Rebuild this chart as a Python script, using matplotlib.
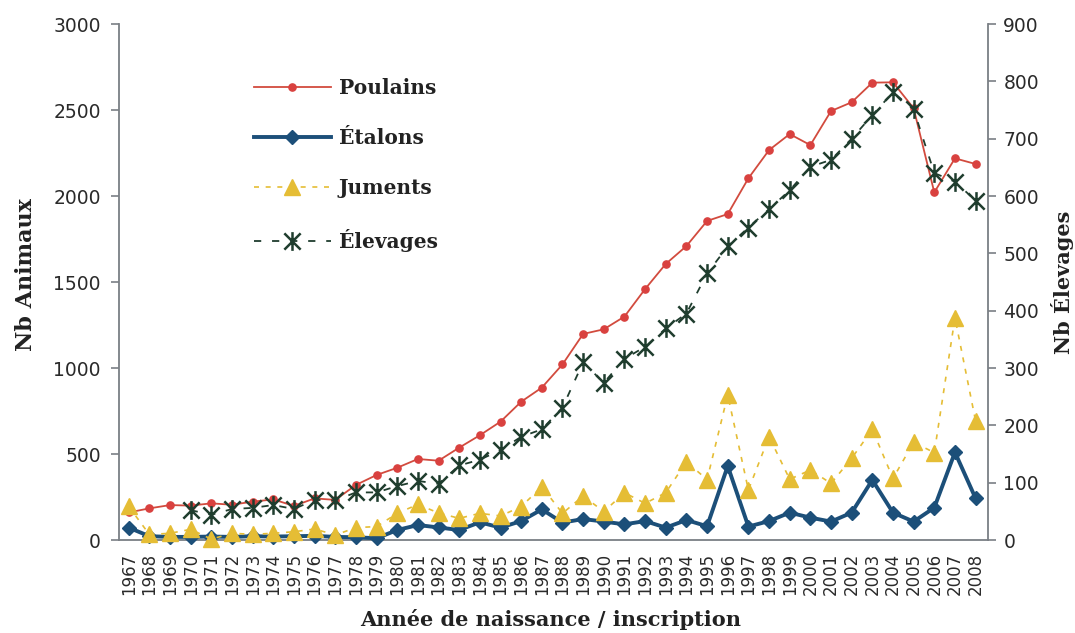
import matplotlib
matplotlib.use("Agg")
import matplotlib.pyplot as plt
from matplotlib.path import Path
import numpy as np

# Birth / registration years
years = list(range(1967, 2009))

# Animal counts (left axis)
poulains = [160, 184, 203, 200, 213, 205, 223, 236, 198, 242, 233, 320, 378, 420,
            471, 461, 537, 609, 688, 804, 886, 1021, 1198, 1225, 1299, 1459, 1605,
            1709, 1855, 1895, 2103, 2267, 2360, 2296, 2494, 2545, 2659, 2661, 2510,
            2021, 2219, 2186]
etalons = [72, 22, 18, 18, 20, 18, 22, 20, 22, 24, 18, 16, 10, 58, 87, 73, 58, 103,
           72, 110, 178, 101, 122, 107, 91, 110, 72, 116, 80, 430, 78, 110, 159,
           130, 107, 159, 349, 159, 107, 188, 510, 242]
juments = [195, 32, 39, 62, 5, 39, 33, 39, 48, 64, 29, 72, 78, 155, 207, 157, 126,
           155, 140, 194, 310, 155, 256, 165, 275, 213, 275, 455, 351, 843, 291,
           601, 353, 407, 329, 475, 643, 358, 568, 508, 1292, 692]

# Number of breeders (right axis), recorded from 1970
elevages_years = list(range(1970, 2009))
elevages = [52, 44, 54, 56, 61, 54, 70, 69, 83, 83, 94, 103, 98, 130, 140, 157, 180,
            193, 231, 310, 274, 316, 337, 369, 395, 465, 512, 545, 577, 610, 651,
            663, 700, 741, 781, 751, 640, 625, 592]

W, H = 1075, 633
fig = plt.figure(figsize=(W / 100, H / 100), dpi=100)
ax = fig.add_axes([119 / W, (H - 540) / H, (988 - 119) / W, (540 - 24) / H])

x = np.arange(len(years))
xe = np.array([years.index(y) for y in elevages_years])

red = "#d24b3e"
blue = "#1c4f79"
yellow = "#e5bd35"
green = "#1f3d2e"
grey = "#7a7f85"
txt = "#2a2a2a"

ax.plot(x, poulains, color=red, lw=1.3, marker="o", ms=5.2, mfc="#d9413f",
        mec="#d9413f", label="Poulains", zorder=3)
ax.plot(x, etalons, color=blue, lw=2.8, marker="D", ms=7.5, mfc=blue, mec=blue,
        label="Étalons", zorder=4, clip_on=False)
ax.plot(x, juments, color=yellow, lw=1.2, ls=(0, (3, 4)), marker="^", ms=11,
        mfc=yellow, mec=yellow, label="Juments", zorder=5, clip_on=False)

# six-armed asterisk: two diagonals and a vertical stroke
star = Path([(-1, -1), (1, 1), (-1, 1), (1, -1), (0, -1.15), (0, 1.15)],
            [Path.MOVETO, Path.LINETO, Path.MOVETO, Path.LINETO, Path.MOVETO,
             Path.LINETO])

ax2 = ax.twinx()
ax2.plot(xe, elevages, color=green, lw=1.3, ls=(0, (4, 6)), marker=star, ms=13.5,
         mew=1.8, mec=green, mfc="none", label="Élevages", zorder=6)

ax.set_xlim(-0.47, 41.6)
ax.set_ylim(0, 3000)
ax2.set_ylim(0, 900)
ax.set_yticks(np.arange(0, 3001, 500))
ax2.set_yticks(np.arange(0, 901, 100))
ax.set_xticks(x)
ax.set_xticklabels([str(y) for y in years], rotation=90, fontsize=12,
                   family="DejaVu Sans", color=txt)

for a in (ax, ax2):
    a.spines["top"].set_visible(False)
    for s in a.spines.values():
        s.set_color(grey)
        s.set_linewidth(1.3)
ax2.spines["left"].set_visible(False)
ax2.spines["bottom"].set_visible(False)
ax.spines["right"].set_visible(False)

ax.tick_params(axis="x", length=0, pad=9)
ax.tick_params(axis="y", length=6, width=1.2, color=grey, pad=7, labelsize=13.5,
               labelcolor=txt)
ax2.tick_params(axis="y", length=6, width=1.2, color=grey, pad=5, labelsize=13.5,
                labelcolor=txt)

lab = dict(family="DejaVu Serif", weight="bold", color="#222222")
fig.text(26 / W, 1 - 275 / H, "Nb Animaux", rotation=90, ha="center",
         va="center", fontsize=16, **lab)
fig.text(1062 / W, 1 - 282 / H, "Nb Élevages", rotation=90, ha="center",
         va="center", fontsize=15, **lab)
fig.text(551 / W, 1 - 620 / H, "Année de naissance / inscription", ha="center",
         va="center", fontsize=15, **lab)

h1, l1 = ax.get_legend_handles_labels()
h2, l2 = ax2.get_legend_handles_labels()
leg = fig.legend(h1 + h2, l1 + l2, loc="upper left",
                 bbox_to_anchor=(254 / W, 1 - 78 / H), frameon=False,
                 handlelength=3.8, labelspacing=1.5, handletextpad=0.4,
                 borderpad=0, borderaxespad=0,
                 prop=dict(family="DejaVu Serif", weight="bold", size=14.5))
for t in leg.get_texts():
    t.set_color("#222222")

fig.savefig("out.png", dpi=100, facecolor="white")
